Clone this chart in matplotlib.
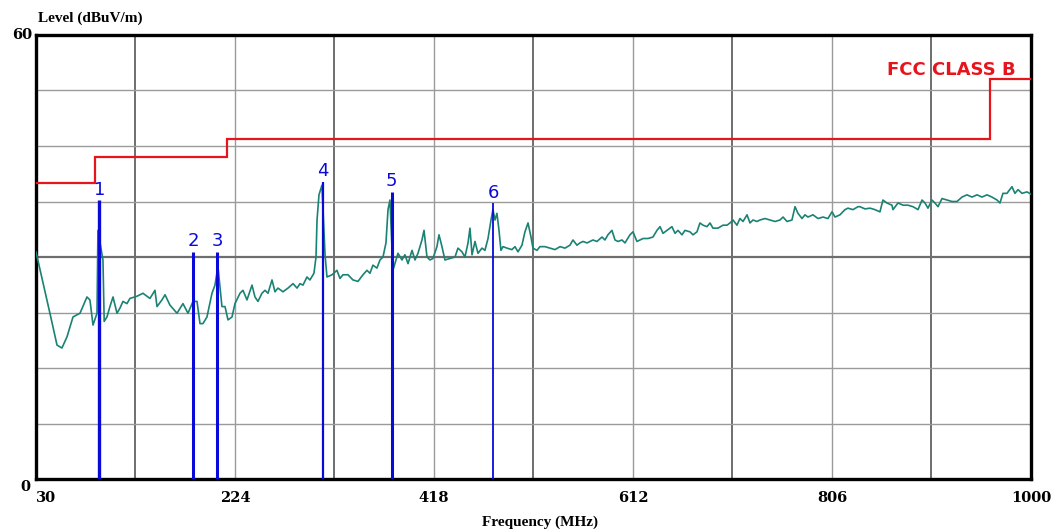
import numpy as np
import matplotlib.pyplot as plt

freq = [30, 43.6, 50.5, 55.3, 60.2, 66.1, 72.9, 79.7, 82.6, 85.6, 89.5, 90.4,
        95.3, 96.5, 99.2, 102.1, 105.1, 109, 111.9, 114.8, 118.7, 121.6, 128.5,
        134.3, 141.1, 146, 148, 152.8, 155.8, 160.6, 167.5, 173.3, 178.2, 183.1,
        187, 189.9, 192.8, 196.7, 201.6, 204.5, 207.4, 211.3, 214.3, 217.2,
        221.1, 224, 228.9, 231.8, 235.7, 240.6, 243.5, 246.4, 250.3, 253.3,
        256.2, 260.1, 263, 265.9, 270.8, 275.7, 280.6, 284.5, 287.4, 290.3,
        294.2, 297.1, 301, 303, 304, 305.9, 308.8, 311.8, 313.7, 318.6, 323.4,
        326.4, 329.3, 334.2, 339, 343.9, 348.8, 352.7, 355.6, 358.5, 362.4,
        365.4, 368.3, 371.2, 373.2, 375.1, 378, 381, 382.9, 386.8, 389.7, 392.7,
        396.6, 399.5, 402.4, 406.3, 408.3, 411.2, 414.1, 417, 420.9, 422.9,
        425.8, 428.7, 433.6, 438.5, 441.4, 445.3, 448.2, 451.2, 453.1, 455.1,
        458, 460.9, 464.8, 467.7, 470.7, 473.6, 475.5, 477.5, 479.4, 481.4,
        483.3, 485.3, 489.2, 494, 497, 499.9, 503.8, 506.7, 509.7, 512.6, 514.5,
        518.4, 521.3, 526.2, 531.1, 536, 540.9, 545.7, 550.6, 553.5, 557.4,
        560.3, 563.3, 567.2, 570.1, 573, 576.9, 581.8, 584.7, 587.6, 591.5,
        594.5, 597.4, 601.3, 604.2, 609.1, 612, 615.9, 618.8, 621.8, 626.7,
        631.5, 635.4, 638.4, 641.3, 645.2, 648.1, 650, 653, 655.9, 659.8, 662.7,
        667.6, 670.5, 674.4, 677.3, 680.3, 684.2, 687.1, 690, 694.9, 699.8,
        703.7, 706.6, 709.5, 713.4, 716.3, 719.3, 723.2, 726.1, 729, 732.9,
        735.8, 740.7, 745.6, 750.5, 755.3, 758.3, 762.2, 767, 770, 772.9, 776.8,
        779.7, 782.6, 787.5, 792.4, 797.3, 802.1, 806, 809, 813.8, 818.7, 821.6,
        826.5, 831.4, 833.3, 838.2, 843.1, 847.9, 852.8, 855.7, 859.6, 864.5,
        865.5, 870.4, 875.3, 880.1, 885, 889.9, 893.8, 896.7, 899.6, 903.5,
        906.4, 909.4, 913.3, 918.2, 923, 927.9, 932.8, 937.6, 942.5, 947.4,
        952.3, 957.1, 962, 966.9, 969.8, 972.7, 976.6, 981.5, 984.4, 987.4,
        991.3, 996.1, 1000]
level = [30.7, 22.4, 18.1, 17.7, 19.2, 21.9, 22.4, 24.6, 24.2, 20.8, 22.4, 33.6,
         29.6, 21.3, 21.9, 23.3, 24.6, 22.4, 23.1, 24.0, 23.7, 24.4, 24.7,
         25.1, 24.4, 25.5, 23.3, 24.2, 24.9, 23.5, 22.4, 23.7, 22.4, 24.0,
         24.0, 21.0, 21.0, 21.9, 25.1, 26.2, 28.7, 23.3, 23.3, 21.5,
         21.9, 23.7, 25.1, 25.5, 24.2, 26.2, 24.6, 24.0, 25.1, 25.5,
         25.1, 26.9, 25.3, 25.8, 25.3, 25.8, 26.4, 25.8, 26.4, 26.2,
         27.3, 26.9, 27.8, 30.0, 35.0, 38.4, 39.7, 30.3, 27.3, 27.6, 28.2,
         27.1, 27.6, 27.6, 26.9, 26.7, 27.6, 28.2, 27.8, 28.9, 28.5,
         29.6, 30.0, 31.9, 36.4, 37.7, 28.2, 29.6, 30.5, 29.6, 30.3, 29.1,
         30.9, 29.6, 30.5, 32.3, 33.6, 30.0, 29.6, 29.8, 31.4, 33.0,
         31.4, 29.6, 29.8, 30.0, 31.2, 30.7, 30.0, 31.9, 33.9, 30.3,
         32.1, 30.5, 31.2, 30.9, 32.5, 35.0, 36.4, 35.0, 35.9, 33.6,
         30.9, 31.4, 31.2, 31.0, 31.4, 30.7, 31.6, 33.4, 34.6, 32.7, 31.2,
         30.9, 31.4, 31.4, 31.2, 31.0, 31.4, 31.2, 31.6, 32.3, 31.6,
         31.9, 32.1, 31.9, 32.1, 32.3, 32.1, 32.7, 32.3, 33.0, 33.6,
         32.3, 32.1, 32.3, 31.9, 33.0, 33.4, 32.1, 32.3, 32.5, 32.5,
         32.7, 33.6, 34.1, 33.2, 33.6, 33.9, 34.1, 33.2, 33.6, 33.0, 33.6,
         33.4, 33.0, 33.4, 34.6, 34.3, 34.1, 34.6, 33.9, 33.9, 34.3,
         34.3, 34.6, 35.0, 34.3, 35.2, 34.8, 35.7, 34.6, 35.0, 34.8,
         35.0, 35.2, 35.0, 34.8, 35.0, 35.4, 34.8, 35.0, 36.8, 35.9, 35.2,
         35.7, 35.4, 35.7, 35.2, 35.4, 35.2, 36.1, 35.4, 35.7, 36.4, 36.6,
         36.4, 36.8, 36.8, 36.5, 36.6, 36.4, 36.1, 37.7, 37.3, 37.0,
         36.4, 37.3, 37.0, 37.0, 36.8, 36.4, 37.7, 37.3, 36.6, 37.7,
         37.3, 36.8, 37.9, 37.7, 37.5, 37.5, 38.1, 38.4, 38.1, 38.4,
         38.1, 38.4, 38.1, 37.7, 37.3, 38.6, 38.6, 39.5, 38.6, 39.1,
         38.6, 38.8, 38.5]

# FCC class B limit (3 m)
limit_edges = [30, 88, 216, 960, 1000]
limit_levels = [40, 43.5, 46, 54]

# marked peaks
peak_freq = [91.7, 183.3, 206.8, 310.1, 376.8, 475.8]
peak_level = [37.7, 30.7, 30.7, 40.2, 38.8, 37.3]
peak_names = ['1', '2', '3', '4', '5', '6']
peak_width = [2.4, 2.2, 2.2, 1.6, 2.2, 1.3]

xticks = [30, 224, 418, 612, 806, 1000]

fig = plt.figure(figsize=(10.55, 5.31), dpi=100)
ax = fig.add_axes([0.0341, 0.0979, 0.9431, 0.8362])
ax.set_xlim(30, 1000)
ax.set_ylim(0, 60)

# grid
for i, x in enumerate(np.arange(30, 1001, 97)):
    if i % 2 == 1:
        ax.axvline(x, color='#6e6e6e', lw=1.4, zorder=1)
    else:
        ax.axvline(x, color='#9a9a9a', lw=1.0, zorder=1)
for y in np.arange(7.5, 60, 7.5):
    if y == 30:
        ax.axhline(y, color='#6e6e6e', lw=1.6, zorder=1)
    else:
        ax.axhline(y, color='#9a9a9a', lw=1.0, zorder=1)

ax.plot(freq, level, color='#1a8274', lw=1.2, zorder=3)
ax.stairs(limit_levels, limit_edges, baseline=None, color='#e8141c', lw=1.6, zorder=4)

for f, l, n, w in zip(peak_freq, peak_level, peak_names, peak_width):
    ax.vlines(f, 0, l, color='#0a0ad8', lw=w, zorder=5)
    ax.annotate(n, (f, l), xytext=(0, 1), textcoords='offset points',
                ha='center', va='bottom', color='#0a0ad8', fontsize=13,
                fontfamily='DejaVu Sans', zorder=6)

ax.text(985, 55.3, 'FCC CLASS B', color='#e8141c', fontsize=13,
        fontweight='bold', ha='right', va='center')

for side in ax.spines.values():
    side.set_linewidth(2.4)
    side.set_color('black')

ax.set_xticks([])
ax.set_yticks([])
tick_font = dict(fontfamily='DejaVu Serif', fontweight='bold', fontsize=10.5)
for x in xticks:
    ha = 'left' if x == 30 else 'center'
    ax.text(x, -1.6, str(x), ha=ha, va='top', clip_on=False, **tick_font)
ax.text(-0.004, 1.0, '60', ha='right', va='center', transform=ax.transAxes,
        clip_on=False, **tick_font)
ax.text(-0.006, -0.017, '0', ha='right', va='center', transform=ax.transAxes,
        clip_on=False, **tick_font)

fig.text(0.036, 0.965, 'Level (dBuV/m)', fontfamily='Liberation Serif',
         fontweight='bold', fontsize=11, ha='left', va='center')
fig.text(0.512, 0.017, 'Frequency (MHz)', fontfamily='Liberation Serif',
         fontweight='bold', fontsize=11, ha='center', va='center')

fig.savefig('out.png', dpi=100)
